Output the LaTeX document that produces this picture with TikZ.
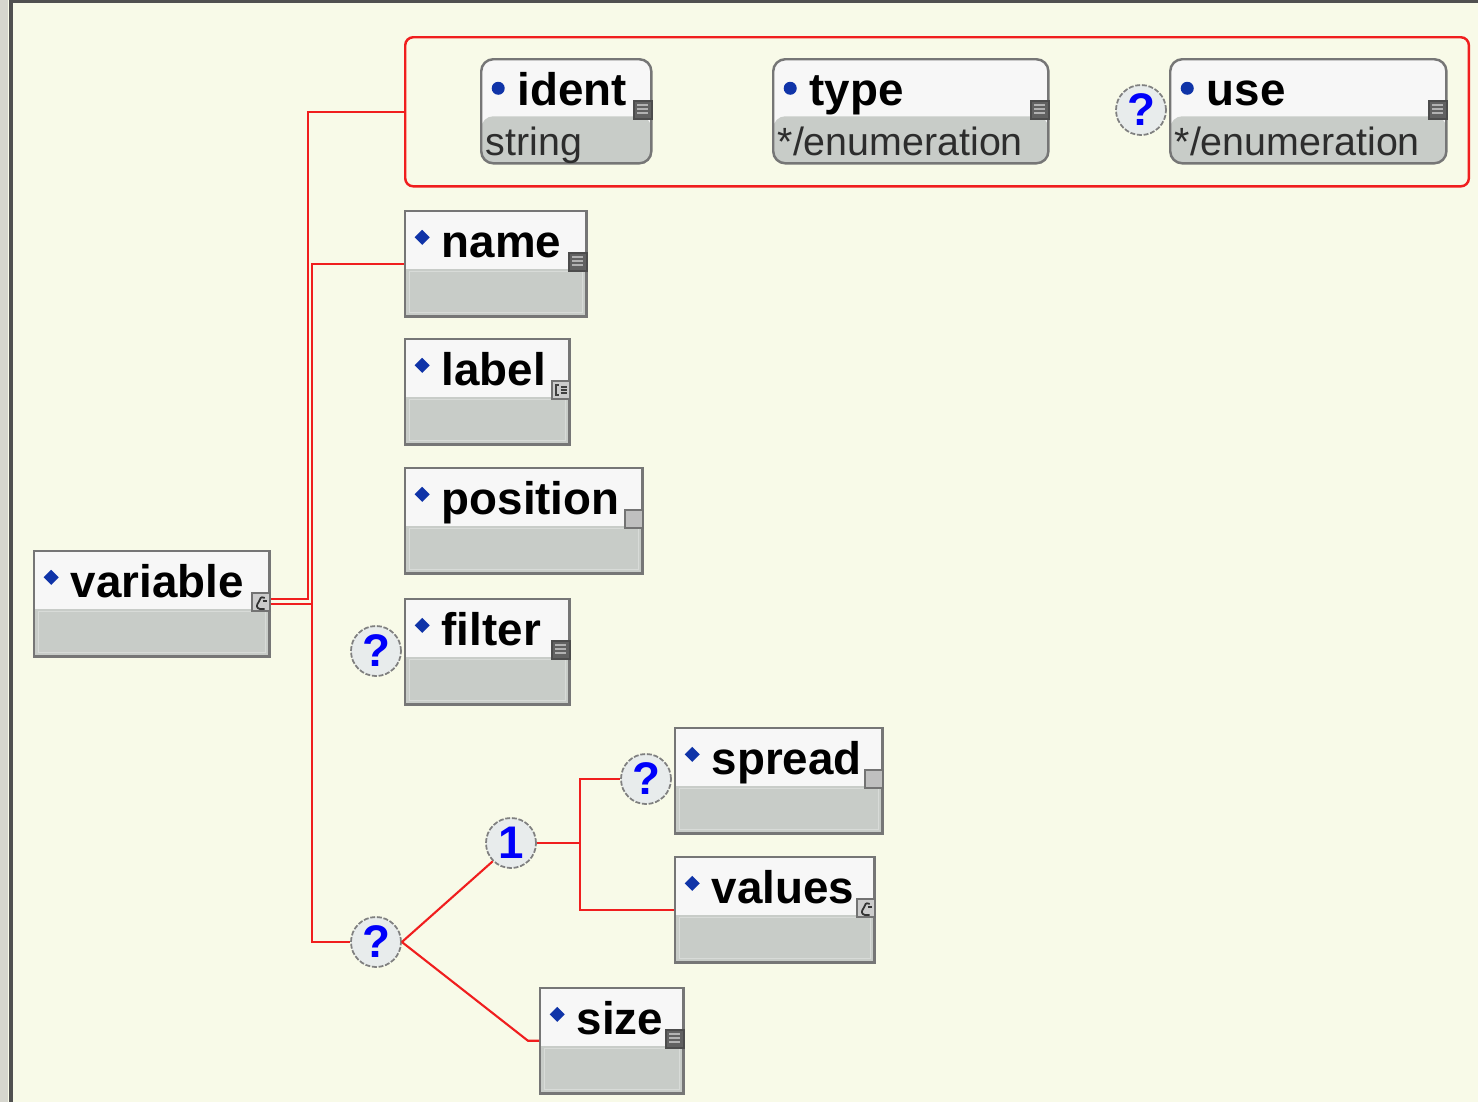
\documentclass[tikz,border=0pt]{standalone}
\usepackage{fontspec}
\setmainfont{Liberation Sans}
\usetikzlibrary{positioning}
\definecolor{canvas}{RGB}{248,250,232}
\definecolor{sidebar}{RGB}{214,214,206}
\definecolor{frame}{RGB}{80,80,80}
\definecolor{boxline}{RGB}{118,118,118}
\definecolor{boxtop}{RGB}{247,247,247}
\definecolor{boxbot}{RGB}{200,204,200}
\definecolor{boxinset}{RGB}{216,219,216}
\definecolor{wire}{RGB}{240,30,30}
\definecolor{bullet}{RGB}{16,52,168}
\definecolor{qfill}{RGB}{232,236,236}
\definecolor{qline}{RGB}{128,128,128}
\definecolor{qblue}{RGB}{0,0,250}
\definecolor{subtext}{RGB}{45,45,45}
\tikzset{
    title/.style={
        font=\bfseries\fontsize{13}{15}\selectfont,
        inner sep=0pt, anchor=base west,
        xshift=0.37cm, yshift=-0.47cm},
    subtitle/.style={
        font=\fontsize{11.2}{13}\selectfont, text=subtext,
        inner sep=0pt, anchor=base west,
        xshift=0.05cm, yshift=0.09cm},
    iconbase/.style={
        rectangle, inner sep=0pt, minimum size=0.18cm,
        line width=0.5pt, anchor=north east, yshift=-0.42cm},
    textdoc/.style={
        iconbase, draw=black!70, fill=black!62,
        path picture={
            \foreach \k in {0.045,0.085,0.125}
                \draw[black!30, line width=0.6pt]
                    ([shift={(0.035cm,-\k cm)}]path picture bounding box.north west) -- ++(0.11cm,0);}},
    plainbox/.style={
        iconbase, draw=black!55, fill=black!25},
    mixeddoc/.style={
        iconbase, draw=black!55, fill=black!20,
        path picture={
            \draw[black!75, line width=0.5pt]
                ([shift={(0.07cm,-0.04cm)}]path picture bounding box.north west) -- ++(-0.03cm,0)
                -- ++(0,-0.1cm) -- ++(0.03cm,0);
            \foreach \k in {0.06,0.09,0.12}
                \draw[black!75, line width=0.4pt]
                    ([shift={(0.09cm,-\k cm)}]path picture bounding box.north west) -- ++(0.06cm,0);}},
    complexdoc/.style={
        iconbase, draw=black!55, fill=black!20,
        path picture={
            \draw[black!80, line width=0.5pt]
                ([shift={(0.13cm,-0.05cm)}]path picture bounding box.north west)
                .. controls +(-0.05cm,0.02cm) and +(0.02cm,0.03cm) .. ++(-0.06cm,-0.04cm)
                .. controls +(-0.03cm,-0.04cm) and +(-0.03cm,0.01cm) .. ++(0.01cm,-0.07cm)
                -- ++(0.05cm,0);
            \draw[black!80, line width=0.4pt]
                ([shift={(0.11cm,-0.08cm)}]path picture bounding box.north west) -- ++(0.04cm,0);}},
    elem/.style 2 args={
        rectangle, draw=boxline, line width=0.7pt, fill=boxtop,
        minimum height=1.05cm, inner sep=0pt, anchor=north west,
        path picture={
            \fill[boxbot] ([yshift=-0.58cm]path picture bounding box.north west)
                rectangle (path picture bounding box.south east);
            \draw[boxinset, line width=0.4pt]
                ([shift={(0.04cm,-0.6cm)}]path picture bounding box.north west)
                rectangle ([shift={(-0.04cm,0.04cm)}]path picture bounding box.south east);
            \fill[bullet] ([shift={(0.17cm,-0.185cm)}]path picture bounding box.north west)
                -- ++(0.075cm,-0.075cm) -- ++(-0.075cm,-0.075cm) -- ++(-0.075cm,0.075cm) -- cycle;},
        label={[title]north west:#1},
        label={[#2]north east:}},
    attr/.style n args={3}{
        rectangle, rounded corners=0.12cm, draw=boxline, line width=0.7pt, fill=boxtop,
        minimum height=1.04cm, inner sep=0pt, anchor=north west,
        path picture={
            \fill[boxbot] ([yshift=-0.57cm]path picture bounding box.north west)
                rectangle (path picture bounding box.south east);
            \fill[bullet] ([shift={(0.17cm,-0.29cm)}]path picture bounding box.north west)
                circle[radius=0.065cm];},
        label={[title]north west:#1},
        label={[subtitle]south west:#2},
        label={[#3]north east:}},
    group/.style={
        rectangle, rounded corners=0.08cm, draw=wire, line width=0.7pt,
        inner sep=0pt, anchor=north west},
    qmark/.style={
        circle, draw=qline, dash pattern=on 1.4pt off 0.5pt, line width=0.5pt,
        fill=qfill, minimum size=0.5cm, inner sep=0pt, text=qblue,
        font=\bfseries\fontsize{13}{15}\selectfont},
    wire/.style={draw=wire, line width=0.6pt}
}
\begin{document}
\begin{tikzpicture}[x=0.01cm, y=-0.01cm]
    \useasboundingbox (0,0) rectangle (1478,1102);
    \fill[canvas] (0,0) rectangle (1478,1102);
    \fill[sidebar] (0,0) rectangle (8,1102);
    \fill[frame] (9,0) rectangle (13,1102);
    \fill[frame] (9,0) rectangle (1478,3);

    % attributes of variable
    \node[group, minimum width=10.63cm, minimum height=1.49cm] (attrs) at (404,36) {};
    \node[attr={ident}{string}{textdoc}, minimum width=1.70cm] (ident) at (480,58) {};
    \node[attr={type}{*/enumeration}{textdoc}, minimum width=2.75cm] (type) at (772,58) {};
    \node[attr={use}{*/enumeration}{textdoc}, minimum width=2.76cm] (use) at (1169,58) {};
    \node[qmark] (quse) at (1141,110) {\raisebox{-1pt}{?}};

    % elements
    \node[elem={variable}{complexdoc}, minimum width=2.35cm] (variable) at (33,550) {};
    \node[elem={name}{textdoc}, minimum width=1.81cm] (name) at (404,210) {};
    \node[elem={label}{mixeddoc}, minimum width=1.64cm] (label) at (404,338) {};
    \node[elem={position}{plainbox}, minimum width=2.37cm] (position) at (404,467) {};
    \node[elem={filter}{textdoc}, minimum width=1.64cm] (filter) at (404,598) {};
    \node[qmark] (qfilter) at (376,651) {\raisebox{-1pt}{?}};

    \node[qmark] (qseq) at (376,942) {\raisebox{-1pt}{?}};
    \node[qmark] (choice) at (511,843) {\raisebox{-1pt}{1}};
    \node[qmark] (qspread) at (646,779) {\raisebox{-1pt}{?}};
    \node[elem={spread}{plainbox}, minimum width=2.07cm] (spread) at (674,727) {};
    \node[elem={values}{complexdoc}, minimum width=1.99cm] (values) at (674,856) {};
    \node[elem={size}{textdoc}, minimum width=1.43cm] (size) at (539,987) {};

    % connectors
    \draw[wire] ([yshift=0.045cm]variable.east) -- ++(0.37cm,0) |- (attrs.west);
    \draw[wire] (variable.east) -- ++(0.41cm,0) coordinate (bus);
    \draw[wire] (bus) |- (name.west);
    \draw[wire] (bus) |- (qseq.west);
    \draw[wire] (qseq.east) -- (choice.south west);
    \draw[wire] (qseq.east) -- ([xshift=-0.11cm]size.west) -- (size.west);
    \draw[wire] (choice.east) -- ++(0.43cm,0) coordinate (fork);
    \draw[wire] (fork) |- (qspread.west);
    \draw[wire] (fork) |- (values.west);
\end{tikzpicture}
\end{document}
